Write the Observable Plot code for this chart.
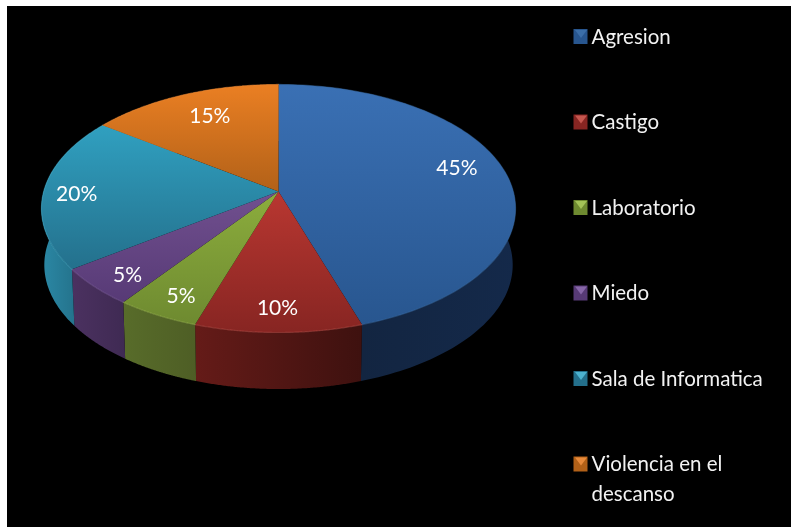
<!DOCTYPE html>
<html>
<head>
<meta charset="utf-8">
<script src="https://cdn.jsdelivr.net/npm/d3@7"></script>
<script src="https://cdn.jsdelivr.net/npm/@observablehq/plot@0.6"></script>
<style>
html,body{margin:0;padding:0;background:#fff;}
svg{display:block;filter:blur(0.4px);}
</style>
</head>
<body>
<div id="chart"></div>
<script>
const categories = ["Agresion", "Castigo", "Laboratorio", "Miedo", "Sala de Informatica", "Violencia en el\ndescanso"];
const percents = [45, 10, 5, 5, 20, 15];
const topLight = ["#3a70b4", "#b93731", "#8cad3d", "#71508f", "#30a0c0", "#ea7f23"];
const topDark = ["#28568f", "#872522", "#6e8a30", "#573a76", "#24708c", "#b26118"];
const sideLeft = ["#12233c", "#651b18", "#586c2a", "#4b3160", "#2b88a5", "#8a4b12"];
const sideRight = ["#14294a", "#3e110f", "#4e5e25", "#3f2a53", "#1e6076", "#8a4b12"];
const rim = ["#3b6ea8", "#c5574f", "#a3c257", "#8767a8", "#4cb2cf", "#e88a3a"];
const labelDx = [-4, -1, -3, -7, -14, 9];
const labelDy = [-8, 7, 9, 9, 3, 4];

const W = 791, H = 527;
const cx = 278, cy = 191, A = 234.8, B = 121.7, k = -0.137, depth = 56.5, shrink = 0.988;

// Tilted-disc projection: u,v on the unit circle to the picture plane
const proj = (u, v) => { const d = 1 + k * v; return {x: cx + A * u / d, y: cy + B * v / d}; };
const onDisc = (a, r = 1) => proj(r * Math.sin(a), -r * Math.cos(a));
const lower = p => ({x: cx + (p.x - cx) * shrink, y: p.y + depth});

const total = d3.sum(percents);
let run = 0;
const slices = percents.map((p, i) => {
  const a0 = run / total * 2 * Math.PI; run += p;
  const a1 = run / total * 2 * Math.PI;
  return {i, p, a0, a1, mid: (a0 + a1) / 2, name: categories[i]};
});
const arc = s => d3.range(0, 121).map(j => onDisc(s.a0 + (s.a1 - s.a0) * j / 120));
const topPoly = s => [{x: cx, y: cy}, ...arc(s), {x: cx, y: cy}];
const sidePoly = s => { const a = arc(s); return [...a, ...a.slice().reverse().map(lower)]; };

const defs = () => {
  const d = d3.create("svg:defs");
  slices.forEach(s => {
    const g = d.append("linearGradient").attr("id", "top" + s.i).attr("x1", 0).attr("y1", 0).attr("x2", 0).attr("y2", 1);
    g.append("stop").attr("offset", 0).attr("stop-color", topLight[s.i]);
    g.append("stop").attr("offset", 1).attr("stop-color", topDark[s.i]);
    const h = d.append("linearGradient").attr("id", "side" + s.i).attr("x1", 0).attr("y1", 0).attr("x2", 1).attr("y2", 0);
    h.append("stop").attr("offset", 0).attr("stop-color", sideLeft[s.i]);
    h.append("stop").attr("offset", 1).attr("stop-color", sideRight[s.i]);
  });
  return d.node();
};

const legendX = 573.5, legendTop = 36.5, legendStep = 85.5, sw = 14;
const legend = categories.map((name, i) => ({name, i, y: legendTop + i * legendStep}));

const marks = [
  defs,
  Plot.rect([0], {x1: () => 7, x2: () => W, y1: () => 6, y2: () => H, fill: "#000"}),
  ...slices.map(s => Plot.line(sidePoly(s), {x: "x", y: "y", fill: `url(#side${s.i})`, stroke: "none"})),
  ...slices.map(s => Plot.line(topPoly(s), {x: "x", y: "y", fill: `url(#top${s.i})`, stroke: "none"})),
  ...slices.map(s => Plot.line(arc(s), {x: "x", y: "y", stroke: rim[s.i], strokeWidth: 1.2, strokeOpacity: 0.45})),
  ...slices.map(s => {
    const c = onDisc(s.mid, 0.8);
    return Plot.text([s.p + "%"], {
      x: () => c.x, y: () => c.y, text: d => d, dx: labelDx[s.i], dy: labelDy[s.i],
      fill: "#fff", fontSize: 21, fontFamily: "Lato", textAnchor: "middle"
    });
  }),
  Plot.rect(legend, {x1: () => legendX, x2: () => legendX + sw, y1: d => d.y - 7.5, y2: d => d.y + 7.5, fill: d => topDark[d.i]}),
  ...legend.map(d => Plot.line(
    [{x: legendX + 1, y: d.y - 7}, {x: legendX + sw - 1, y: d.y - 7}, {x: legendX + sw / 2, y: d.y + 1}],
    {x: "x", y: "y", fill: rim[d.i], stroke: "none"})),
  Plot.text(legend, {
    x: () => 591, y: d => d.y, text: "name", textAnchor: "start", lineAnchor: "top",
    dy: -14.5, lineHeight: 1.46, fill: "#f2f2f2", fontSize: 20.5, fontFamily: "Lato"
  })
];

const chart = Plot.plot({
  width: W, height: H,
  margin: 0,
  x: {axis: null, domain: [0, W], range: [0, W]},
  y: {axis: null, domain: [0, H], range: [0, H]},
  color: {type: "identity"},
  style: {background: "#fff", overflow: "hidden"},
  marks
});
document.getElementById("chart").append(chart);
</script>
</body>
</html>
